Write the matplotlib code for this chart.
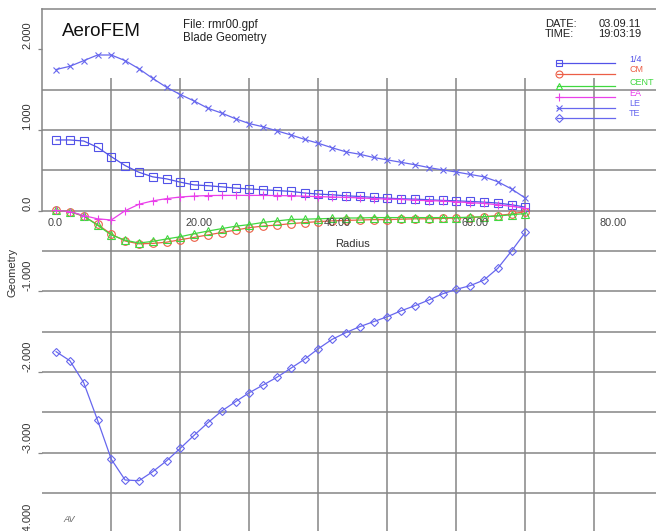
import matplotlib
matplotlib.use("Agg")
import matplotlib.pyplot as plt
from matplotlib.lines import Line2D

plt.rcParams['font.family'] = ['Liberation Sans', 'DejaVu Sans']

# blade stations
radius = [2, 4, 6, 8, 10, 12, 14, 16, 18, 20, 22, 24, 26, 28, 30, 32, 34, 36,
          38, 40, 42, 44, 46, 48, 50, 52, 54, 56, 58, 60, 62, 64, 66, 68, 70]

quarter = [0.877, 0.877, 0.864, 0.786, 0.67, 0.56, 0.477, 0.42, 0.395, 0.354,
           0.32, 0.31, 0.296, 0.28, 0.27, 0.26, 0.25, 0.24, 0.22, 0.206, 0.198,
           0.185, 0.177, 0.165, 0.156, 0.148, 0.144, 0.136, 0.128, 0.123,
           0.115, 0.107, 0.095, 0.074, 0.045]
cm = [0.004, -0.01, -0.07, -0.17, -0.29, -0.375, -0.41, -0.405, -0.39, -0.36,
      -0.33, -0.3, -0.27, -0.24, -0.21, -0.19, -0.178, -0.16, -0.147, -0.135,
      -0.125, -0.12, -0.115, -0.11, -0.11, -0.105, -0.1, -0.1, -0.095, -0.09,
      -0.085, -0.075, -0.06, -0.04, -0.01]
cent = [0.004, -0.01, -0.065, -0.18, -0.3, -0.365, -0.4, -0.38, -0.35, -0.322,
        -0.285, -0.252, -0.222, -0.192, -0.172, -0.145, -0.126, -0.108, -0.105,
        -0.1, -0.095, -0.09, -0.09, -0.085, -0.085, -0.085, -0.085, -0.085,
        -0.085, -0.085, -0.08, -0.075, -0.065, -0.05, -0.035]
ea = [0.004, -0.01, -0.06, -0.1, -0.115, 0.0, 0.08, 0.122, 0.15, 0.17, 0.182,
      0.188, 0.19, 0.19, 0.19, 0.19, 0.188, 0.185, 0.18, 0.175, 0.17, 0.165,
      0.16, 0.15, 0.145, 0.14, 0.13, 0.125, 0.12, 0.11, 0.1, 0.09, 0.075,
      0.055, 0.03]
le = [1.75, 1.79, 1.86, 1.93, 1.93, 1.86, 1.76, 1.64, 1.53, 1.44, 1.36, 1.27,
      1.21, 1.14, 1.08, 1.04, 0.99, 0.94, 0.885, 0.836, 0.78, 0.73, 0.70,
      0.66, 0.63, 0.60, 0.57, 0.535, 0.506, 0.48, 0.45, 0.42, 0.36, 0.27,
      0.157]
te = [-1.747, -1.859, -2.131, -2.594, -3.08, -3.337, -3.346, -3.234, -3.10,
      -2.944, -2.783, -2.627, -2.482, -2.367, -2.255, -2.16, -2.064, -1.953,
      -1.841, -1.71, -1.594, -1.51, -1.437, -1.375, -1.313, -1.24, -1.177,
      -1.107, -1.03, -0.974, -0.929, -0.859, -0.714, -0.5, -0.268]

series_names = ['1/4', 'CM', 'CENT', 'EA', 'LE', 'TE']

x_ticks = [0, 20, 40, 60, 80]
x_tick_labels = ['0.0', '20.00', '40.00', '60.00', '80.00']
y_ticks = [2, 1, 0, -1, -2, -3, -4]
y_tick_labels = ['2.000', '1.000', '0.0', '-1.000', '-2.000', '-3.000', '-4.000']
x_grid = [10, 20, 30, 40, 50, 60, 70, 80]
y_grid = [1.5, 1.0, 0.5, 0.0, -0.5, -1.0, -1.5, -2.0, -2.5, -3.0, -3.5]

W, H = 656, 531
fig = plt.figure(figsize=(W / 100, H / 100), dpi=100)
# axes placed so that x=0 sits at 42px, y=2.5 at 9px, y=-4 just below the bottom edge
ax = fig.add_axes([42.3 / W, (H - 533.5) / H, 6.9 * 90 / W, 524.5 / H])
ax.set_xlim(0, 90)
ax.set_ylim(-4, 2.5)

gc = '#858585'
ax.vlines(x_grid, -4, 1.64, color=gc, lw=1.1, zorder=1)
ax.hlines(y_grid, 0, 90, color=gc, lw=1.1, zorder=1)

for s in ['right', 'bottom']:
    ax.spines[s].set_visible(False)
ax.spines['top'].set_color(gc)
ax.spines['top'].set_linewidth(1.1)
ax.spines['left'].set_color(gc)
ax.spines['left'].set_linewidth(1.1)
ax.spines['left'].set_bounds(0, 2.5)

blue = '#5252e8'
blue2 = '#6767ee'
red = '#ec5e46'
green = '#40d840'
mag = '#ea40ea'

styles = [
    (quarter, blue, 's', 5.5),
    (cm, red, 'o', 5.5),
    (cent, green, '^', 5.5),
    (ea, mag, '+', 6),
    (le, blue2, 'x', 5),
    (te, blue2, 'D', 4.5),
]
for vals, c, m, ms in styles:
    ax.plot(radius, vals, color=c, lw=0.9, marker=m, ms=ms, mfc='none',
            mec=c, mew=0.8, zorder=3)

ax.set_xticks([])
for xv, lab in zip(x_ticks, x_tick_labels):
    ax.annotate(lab, (xv, 0), xytext=(4, -9), textcoords='offset points',
                ha='left', va='center', fontsize=7.8, color='#444444')

ax.set_yticks(y_ticks)
ax.set_yticklabels(y_tick_labels, rotation=90, va='bottom', ha='right')
ax.tick_params(axis='y', length=3, width=0.9, color=gc, pad=4,
               labelsize=8, labelcolor='#333333')

fig.text(352 / W, 1 - 244 / H, 'Radius', ha='center', va='center',
         fontsize=8, color='#333333')
fig.text(12 / W, 1 - 272 / H, 'Geometry', ha='center', va='center',
         rotation=90, fontsize=8, color='#333333')

# header
fig.text(62 / W, 1 - 31.5 / H, 'AeroFEM', ha='left', va='center',
         fontsize=13.5, color='#111111')
fig.text(183 / W, 1 - 25 / H, 'File: rmr00.gpf', ha='left', va='center',
         fontsize=8.3, color='#222222')
fig.text(183 / W, 1 - 37.5 / H, 'Blade Geometry', ha='left', va='center',
         fontsize=8.3, color='#222222')
fig.text(545 / W, 1 - 24 / H, 'DATE:', ha='left', va='center',
         fontsize=8, color='#222222')
fig.text(545 / W, 1 - 34 / H, 'TIME:', ha='left', va='center',
         fontsize=8, color='#222222')
fig.text(641 / W, 1 - 24 / H, '03.09.11', ha='right', va='center',
         fontsize=8, color='#222222')
fig.text(641 / W, 1 - 34 / H, '19:03:19', ha='right', va='center',
         fontsize=8, color='#222222')
fig.text(63 / W, 1 - 520 / H, 'AV', ha='left', va='center', fontsize=6.5,
         style='italic', color='#666666')

# legend: line with marker at left end, coloured label to the right
leg_rows = [63, 74, 86, 97, 108, 118]
for (vals, c, m, ms), name, py in zip(styles, series_names, leg_rows):
    yf = 1 - py / H
    fig.add_artist(Line2D([557 / W, 615 / W], [yf, yf], color=c, lw=0.9,
                          transform=fig.transFigure))
    fig.add_artist(Line2D([559 / W], [yf], color=c, marker=m, ms=ms - 0.5,
                          mfc='none', mec=c, mew=0.8, transform=fig.transFigure))
    fig.text(629 / W, 1 - (py - 4) / H, name, ha='left', va='center',
             fontsize=6.5, color=c)

fig.savefig('out.png', dpi=100)
